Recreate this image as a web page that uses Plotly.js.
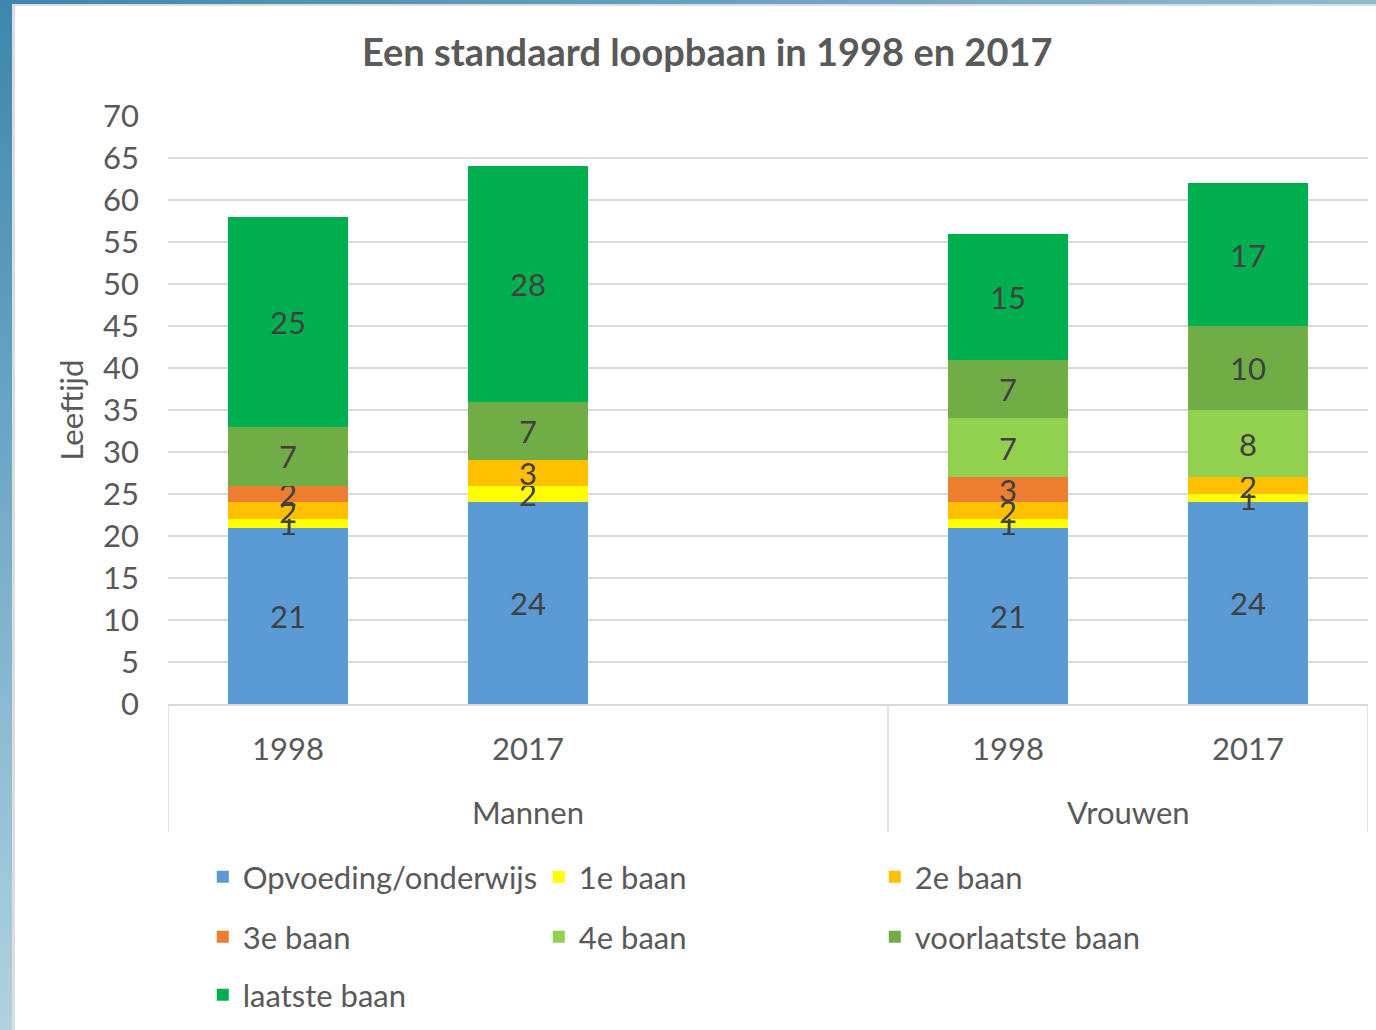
<!DOCTYPE html>
<html><head><meta charset="utf-8">
<script src="https://cdn.plot.ly/plotly-3.0.1.min.js"></script>
<style>
html,body{margin:0;padding:0;width:1376px;height:1030px;overflow:hidden;}
body{position:relative;background:linear-gradient(180deg,#3d86ac 0%,#6ea8c6 45%,#b2d1e1 100%);}
#topstrip{position:absolute;left:0;top:0;width:1376px;height:5px;background:linear-gradient(90deg,#3d86ac 0%,#5e9cbb 40%,#8fb9cf 100%);}
#card{position:absolute;left:12px;top:4px;right:0;bottom:0;background:#fff;border-left:3px solid #dedede;border-top:2px solid #dedede;}
#chart{position:absolute;left:0;top:0;width:1376px;height:1030px;}
</style></head>
<body>
<div id="topstrip"></div>
<div id="card"></div>
<div id="chart"></div>
<script>
// Categories: group and year per bar slot (third Mannen slot is empty)
const groups = ['Mannen', 'Mannen', 'Mannen', 'Vrouwen', 'Vrouwen'];
const years = ['1998', '2017', '', '1998', '2017'];

// Series names
const seriesNames = ['Opvoeding/onderwijs', '1e baan', '2e baan', '3e baan', '4e baan', 'voorlaatste baan', 'laatste baan'];

// Series values (years per phase)
const opvoeding = [21, 24, null, 21, 24];
const baan1 = [1, 2, null, 1, 1];
const baan2 = [2, 3, null, 2, 2];
const baan3 = [2, null, null, 3, null];
const baan4 = [null, null, null, 7, 8];
const voorlaatste = [7, 7, null, 7, 10];
const laatste = [25, 28, null, 15, 17];

const seriesValues = [opvoeding, baan1, baan2, baan3, baan4, voorlaatste, laatste];
const seriesColors = ['#5B9BD5', '#FFFF00', '#FFC000', '#ED7D31', '#92D050', '#70AD47', '#00B050'];
const legendRows = ['legend', 'legend', 'legend', 'legend2', 'legend2', 'legend2', 'legend3'];

const FONT = 'Lato, sans-serif';
const FS = 31;
const GRID = '#d9d9d9';

// unique category keys built from group + year
const cats = groups.map((g, i) => g + '|' + i);

const traces = seriesNames.map((name, i) => ({
  type: 'bar',
  name: name,
  x: cats,
  y: seriesValues[i],
  marker: {color: seriesColors[i], line: {width: 0}},
  texttemplate: '%{y}',
  textposition: 'inside',
  insidetextanchor: 'middle',
  textangle: 0,
  textfont: {size: FS, color: '#404040', family: FONT},
  hoverinfo: 'skip',
  legend: legendRows[i]
}));

// group labels and dividers derived from the groups array
const groupNames = [...new Set(groups)];
const annotations = groupNames.map(g => {
  const idx = groups.map((v, i) => v === g ? i : -1).filter(i => i >= 0);
  const center = (idx[0] + idx[idx.length - 1]) / 2;
  return {
    text: g, x: center, xref: 'x', y: -0.1837, yref: 'paper',
    xanchor: 'center', yanchor: 'middle', showarrow: false,
    font: {size: FS, color: '#595959', family: FONT}
  };
});
const bounds = [-0.5];
groups.forEach((g, i) => { if (i > 0 && g !== groups[i - 1]) bounds.push(i - 0.5); });
bounds.push(groups.length - 0.5);
const shapes = bounds.map(b => ({
  type: 'line', xref: 'x', yref: 'paper', x0: b, x1: b, y0: 0, y1: -0.2177,
  line: {color: GRID, width: 1.5}
}));

const legendBase = {
  orientation: 'h', xanchor: 'left', yanchor: 'middle',
  x: 0.029, entrywidth: 291, entrywidthmode: 'pixels',
  font: {size: FS, color: '#595959', family: FONT},
  bgcolor: 'rgba(0,0,0,0)', traceorder: 'normal'
};

const layout = {
  width: 1376, height: 1030,
  paper_bgcolor: 'rgba(0,0,0,0)', plot_bgcolor: 'rgba(0,0,0,0)',
  margin: {l: 168, r: 8, t: 116, b: 326, autoexpand: false},
  barmode: 'stack', bargap: 0.5,
  font: {family: FONT, color: '#595959', size: FS},
  uniformtext: {mode: 'show', minsize: FS},
  title: {
    text: '<b>Een standaard loopbaan in 1998 en 2017</b>',
    font: {size: 38, color: '#595959', family: FONT},
    x: 0.514, xref: 'container', xanchor: 'center',
    y: 0.9485, yref: 'container', yanchor: 'middle'
  },
  xaxis: {
    type: 'category', categoryorder: 'array', categoryarray: cats,
    range: [-0.5, cats.length - 0.5],
    tickmode: 'array', tickvals: cats, ticktext: years,
    showline: true, linecolor: GRID, linewidth: 1.5,
    ticks: '', tickfont: {size: FS, color: '#595959', family: FONT},
    ticklabelstandoff: 17,
    showgrid: false, automargin: false
  },
  yaxis: {
    range: [0, 70], dtick: 5, tick0: 0,
    showgrid: true, gridcolor: GRID, gridwidth: 1.5,
    zeroline: false, showline: false, ticks: '',
    tickfont: {size: FS, color: '#595959', family: FONT},
    ticklabelstandoff: 28,
    title: {text: 'Leeftijd', font: {size: FS, color: '#595959', family: FONT}, standoff: 10},
    automargin: false
  },
  annotations: annotations,
  shapes: shapes,
  showlegend: true,
  legend: Object.assign({}, legendBase, {y: -0.2942}),
  legend2: Object.assign({}, legendBase, {y: -0.3963}),
  legend3: Object.assign({}, legendBase, {y: -0.4949})
};

Plotly.newPlot('chart', traces, layout, {displayModeBar: false, staticPlot: true});
</script>
</body></html>
